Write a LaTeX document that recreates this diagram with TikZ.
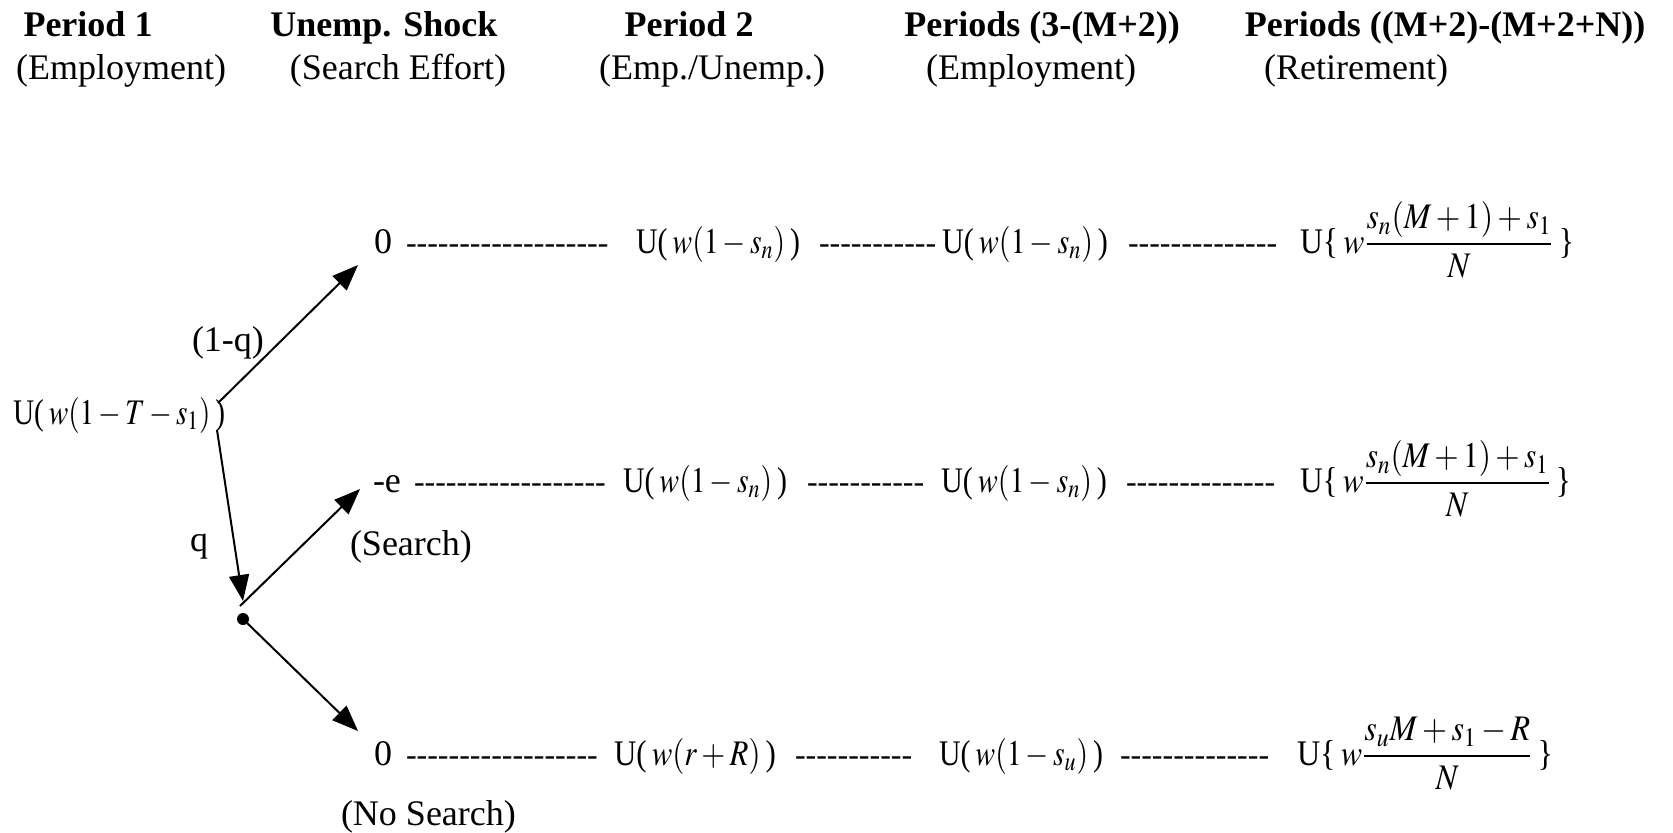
\documentclass[tikz,border=0pt]{standalone}
\usepackage{mathptmx}
\usepackage{graphicx}
\usepackage{fontspec}
\setmainfont{Liberation Serif}[Ligatures=TeXOff]
\usetikzlibrary{arrows.meta}
\newcommand{\fitto}[2]{\resizebox{#1}{\height}{#2}}
\begin{document}
\begin{tikzpicture}[x=0.5pt,y=-0.5pt,
  every node/.style={inner sep=0pt, outer sep=0pt, font=\fontsize{18}{22}\selectfont},
  hdr/.style={anchor=base, font=\fontsize{18}{22}\selectfont\bfseries},
  sub/.style={anchor=base},
  lbl/.style={anchor=base west},
  dashrun/.style={anchor=base west, font=\fontsize{16}{20}\selectfont},
  arr/.style={line width=1pt, -{Triangle[length=13pt,width=10pt]}},
  dotnode/.style={circle, fill=black, minimum size=6pt}]
\useasboundingbox (0,0) rectangle (1673,832);
% headers
\node[hdr] (h1) at (88,36) {Period 1};
\node[sub] (s1) at (121,79) {(Employment)};
\node[hdr] (h2) at (384,36) {Unemp. Shock};
\node[sub] (s2) at (398,79) {(Search Effort)};
\node[hdr] (h3) at (689,36) {Period 2};
\node[sub] (s3) at (712,79) {(Emp./Unemp.)};
\node[hdr] (h4) at (1042,36) {Periods (3-(M+2))};
\node[sub] (s4) at (1031,79) {(Employment)};
\node[hdr] (h5) at (1445,36) {Periods ((M+2)-(M+2+N))};
\node[sub] (s5) at (1356,79) {(Retirement)};
% root and labels
\node[lbl] (root) at (13,424) {\fitto{106pt}{U(\,$w(1-T-s_{1})$\,)}};
\node[lbl] (lq1) at (192,351) {(1-q)};
\node[lbl] (lq) at (190,551) {q};
\node[lbl] (ls) at (350,555) {(Search)};
\node[lbl] (lns) at (341,825) {(No Search)};
\node[dotnode] (dot) at (243,619) {};
% row 1
\node[lbl] (z1) at (374,253) {0};
\node[dashrun] (d11) at (406,253) {-------------------};
\node[lbl] (u11) at (636,253) {\fitto{82pt}{U(\,$w(1-s_{n})$\,)}};
\node[dashrun] (d12) at (819,253) {-----------};
\node[lbl] (u12) at (942,253) {\fitto{83pt}{U(\,$w(1-s_{n})$\,)}};
\node[dashrun] (d13) at (1128,253) {--------------};
\node[lbl] (u13) at (1300,253) {\fitto{137pt}{U\{\,$w\displaystyle\frac{s_{n}(M+1)+s_{1}}{N}$\,\}}};
% row 2
\node[lbl] (z2) at (373,492) {-e};
\node[dashrun] (d21) at (414,492) {------------------};
\node[lbl] (u21) at (623,492) {\fitto{82pt}{U(\,$w(1-s_{n})$\,)}};
\node[dashrun] (d22) at (807,492) {-----------};
\node[lbl] (u22) at (941,492) {\fitto{83pt}{U(\,$w(1-s_{n})$\,)}};
\node[dashrun] (d23) at (1126,492) {--------------};
\node[lbl] (u23) at (1300,492) {\fitto{135.5pt}{U\{\,$w\displaystyle\frac{s_{n}(M+1)+s_{1}}{N}$\,\}}};
% row 3
\node[lbl] (z3) at (374,765) {0};
\node[dashrun] (d31) at (406,765) {------------------};
\node[lbl] (u31) at (614,765) {\fitto{81pt}{U(\,$w(r+R)$\,)}};
\node[dashrun] (d32) at (795,765) {-----------};
\node[lbl] (u32) at (939,765) {\fitto{82pt}{U(\,$w(1-s_{u})$\,)}};
\node[dashrun] (d33) at (1120,765) {--------------};
\node[lbl] (u33) at (1297,765) {\fitto{128pt}{U\{\,$w\displaystyle\frac{s_{u}M+s_{1}-R}{N}$\,\}}};
% arrows
\coordinate (a1s) at (218,403); \coordinate (a1e) at (358,265);
\coordinate (a2s) at (217,430); \coordinate (a2e) at (243,601);
\coordinate (a3s) at (240,606); \coordinate (a3e) at (360,489);
\coordinate (a4e) at (358,731);
\draw[arr] (a1s) -- (a1e);
\draw[arr] (a2s) -- (a2e);
\draw[arr] (a3s) -- (a3e);
\draw[arr] (dot) -- (a4e);
\end{tikzpicture}
\end{document}
